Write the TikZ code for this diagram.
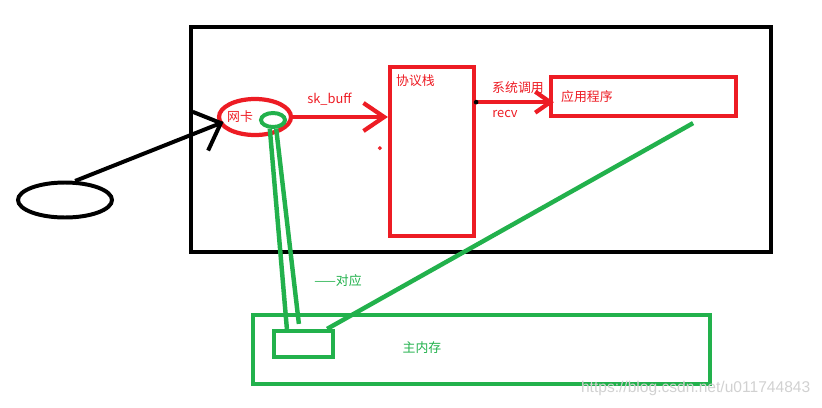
\documentclass[tikz,border=0pt]{standalone}
\usepackage{fontspec}
\setmainfont{Noto Sans CJK SC}
\newfontfamily\markfont{Liberation Sans}
\usepackage{tikz}
\usetikzlibrary{shapes.geometric,arrows.meta}

\definecolor{paintred}{HTML}{ED1C24}
\definecolor{paintgreen}{HTML}{22B14C}

\tikzset{
    redbox/.style={draw=paintred,line width=3.6pt,rectangle,inner sep=0pt},
    greenbox/.style={draw=paintgreen,line width=3.6pt,rectangle,inner sep=0pt},
    redtext/.style={text=paintred,font=\fontsize{11}{13}\selectfont,inner sep=0pt},
    greentext/.style={text=paintgreen,font=\fontsize{11}{13}\selectfont,inner sep=0pt},
    greenwire/.style={draw=paintgreen,line width=3.8pt},
}

\begin{document}
\begin{tikzpicture}
        \useasboundingbox (0,0) rectangle (24.66,-12.21);
        % the host machine
        \node (host) [draw,line width=3.8pt,rectangle,minimum width=17.4cm,minimum height=6.75cm] at (14.43,-4.185) {};
        \node (client) [draw,line width=3.4pt,ellipse,minimum width=2.82cm,minimum height=1.05cm] at (1.95,-6.0) {};
        \node (nic) [draw=paintred,line width=3.6pt,ellipse,minimum width=2.16cm,minimum height=1.08cm] at (7.65,-3.51) {};
        \node (nictext) [redtext,anchor=west] at ([xshift=0.3cm]nic.west) {网卡};
        \node (nicring) [draw=paintgreen,line width=3.4pt,ellipse,minimum width=0.72cm,minimum height=0.42cm,inner sep=0pt] at (8.19,-3.6) {};
        \node (stack) [redbox,minimum width=2.52cm,minimum height=5.07cm] at (12.96,-4.545) {};
        \node (stacktext) [redtext,anchor=north west] at ([xshift=0.24cm,yshift=-0.3cm]stack.north west) {协议栈};
        \node (app) [redbox,minimum width=5.55cm,minimum height=1.17cm] at (19.305,-2.895) {};
        \node (apptext) [redtext,anchor=west] at ([xshift=0.36cm]app.west) {应用程序};
        % main memory
        \node (mem) [greenbox,minimum width=13.71cm,minimum height=2.07cm] at (14.445,-10.485) {};
        \node (memtext) [greentext] at (12.66,-10.44) {主内存};
        \node (buf) [greenbox,minimum width=1.77cm,minimum height=0.78cm] at (9.105,-10.32) {};
        % connectors
        \draw[line width=3.4pt,-{Straight Barb[length=0.66cm,width=1.25cm]}] (client.62) -- ([xshift=0.2cm,yshift=-0.15cm]nic.west);
        \draw[draw=paintred,line width=3.6pt,-{Straight Barb[length=0.62cm,width=0.84cm]}] (nic.east) -- (nic.east -| stack.west)
            node[midway,above=0.3cm,xshift=-0.33cm,redtext] (skbuff) {sk\_buff};
        \coordinate (callstart) at ([yshift=-0.17cm]stack.east |- app.west);
        \draw[draw=paintred,line width=3.6pt,-{Straight Barb[length=0.45cm,width=0.63cm]}] (callstart) -- ([xshift=0.15cm,yshift=-0.17cm]app.west);
        \fill (callstart) circle (0.07cm);
        \node (calltext) [redtext] at (15.54,-2.64) {系统调用};
        \node (recvtext) [redtext] at (15.15,-3.42) {recv};
        \draw[paintred,line width=1pt] ([xshift=-0.24cm,yshift=0.1cm]stack.west) circle (0.04cm);
        \draw[greenwire] (nicring.250) -- ([xshift=0.45cm]buf.north west);
        \draw[greenwire] (nicring.290) -- ([xshift=0.81cm,yshift=0.15cm]buf.north west);
        \draw[greenwire] ([xshift=-1.35cm,yshift=-0.15cm]app.south east) -- ([xshift=-0.24cm]buf.north east);
        \node (maptext) [greentext] at (10.14,-8.43) {——对应};
        \node (mark) [text=black!18,font=\markfont\fontsize{13.3}{15}\selectfont,inner sep=0pt] at (20.87,-11.64) {https://blog.csdn.net/u011744843};
    \end{tikzpicture}
\end{document}
